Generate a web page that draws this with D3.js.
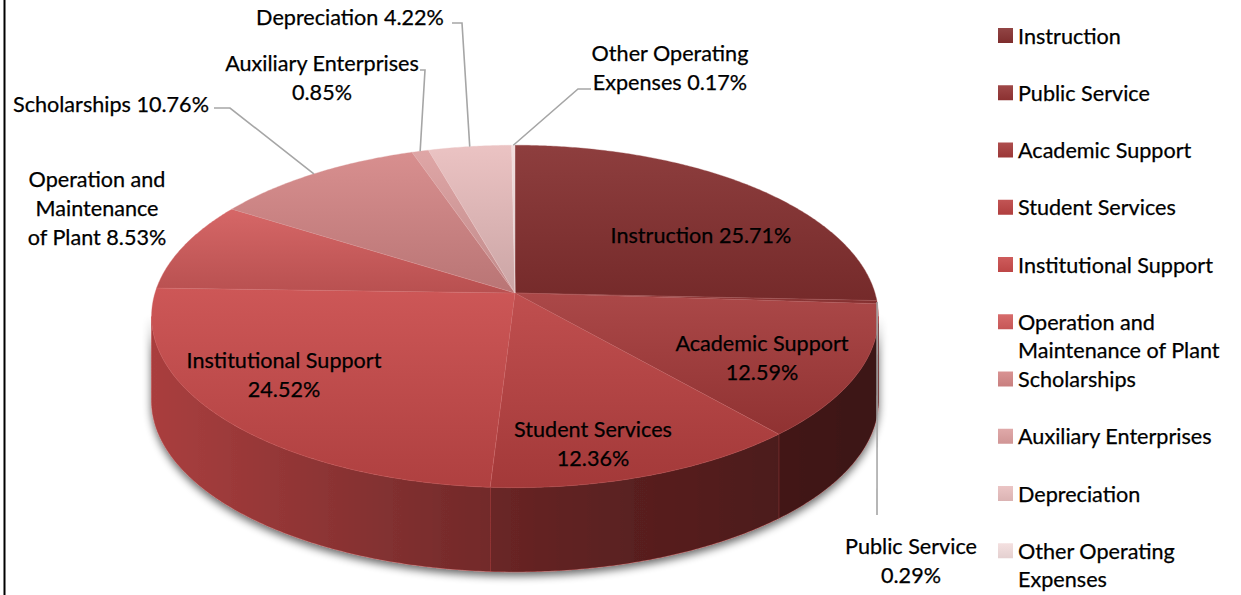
<!DOCTYPE html>
<html>
<head>
<meta charset="utf-8">
<script src="https://cdn.jsdelivr.net/npm/d3@7"></script>
<style>
  html, body { margin: 0; padding: 0; background: #fff; }
  svg { display: block; }
  text { font-family: Lato, "Open Sans", sans-serif; fill: #000; stroke: #000; stroke-width: 0.25; }
</style>
</head>
<body>
<svg id="chart" width="1241" height="595"></svg>
<script>
// Expense categories, in drawing order (clockwise from 12 o'clock)
const categories = [
  "Instruction",
  "Public Service",
  "Academic Support",
  "Student Services",
  "Institutional Support",
  "Operation and Maintenance of Plant",
  "Scholarships",
  "Auxiliary Enterprises",
  "Depreciation",
  "Other Operating Expenses"
];

// Share of total expenses, percent
const shares = [25.71, 0.29, 12.59, 12.36, 24.52, 8.53, 10.76, 0.85, 4.22, 0.17];

// Series colours (dark red through pale pink)
const colors = [
  "#863030", "#943434", "#a53a3a", "#bb4242", "#c94a4a",
  "#d35c5c", "#d58787", "#dd9f9f", "#e9bebe", "#f3dddd"
];

// Words per line for the legend entries
const legendBreaks = [[1], [2], [2], [2], [2], [2, 3], [1], [2], [1], [2, 1]];

// Data label layout: words per line, line centres, optional leader (elbow, end)
const labelLayout = [
  { lines: [2],       x: 701, y: 235 },
  { lines: [2, 1],    x: 911, y: 546, leader: [[877, 515]] },
  { lines: [2, 1],    x: 762, y: 343 },
  { lines: [2, 1],    x: 593, y: 429 },
  { lines: [2, 1],    x: 284, y: 360 },
  { lines: [2, 1, 3], x: 97,  y: 179 },
  { lines: [2],       x: 111, y: 104, leader: [[230, 108], [214, 108]] },
  { lines: [2, 1],    x: 322, y: 63,  leader: [[425, 70], [420, 70]] },
  { lines: [2],       x: 350, y: 17,  leader: [[462, 23], [452, 23]] },
  { lines: [2, 2],    x: 670, y: 53,  leader: [[578, 89], [591, 89]] }
];

const W = 1241, H = 595;
const svg = d3.select("#chart");
const defs = svg.append("defs");

// Perspective view of the pie disc
const CX = 515, CY = 293, RX = 360, RY = 168, K = 0.137, DEPTH = 84;
function project(theta, r, drop) {
  const X = Math.sin(theta) * r, Y = -Math.cos(theta) * r;
  const w = 1 - K * Y;
  return [CX + RX * X / w, CY + RY * Y / w + (drop || 0)];
}
function rimPoints(a0, a1, drop) {
  const n = Math.max(2, Math.ceil((a1 - a0) / (Math.PI / 360)));
  return d3.range(n + 1).map(i => project(a0 + (a1 - a0) * i / n, 1, drop));
}
const line = d3.line();

const pie = d3.pie().sort(null).value(d => d).startAngle(0).endAngle(2 * Math.PI);
const arcs = pie(shares);

// Gradients
const mix = (c, t, amt) => d3.interpolateRgb(c, t)(amt);
colors.forEach((c, i) => {
  const g = defs.append("linearGradient").attr("id", "top" + i)
    .attr("x1", 0).attr("y1", 0).attr("x2", 0).attr("y2", 1);
  g.append("stop").attr("offset", 0).attr("stop-color", mix(c, "#fff", 0.07));
  g.append("stop").attr("offset", 1).attr("stop-color", mix(c, "#000", 0.13));
  const l = defs.append("linearGradient").attr("id", "key" + i)
    .attr("x1", 0).attr("y1", 0).attr("x2", 0).attr("y2", 1);
  l.append("stop").attr("offset", 0).attr("stop-color", mix(c, "#fff", 0.1));
  l.append("stop").attr("offset", 1).attr("stop-color", mix(c, "#000", 0.06));
});
const side = defs.append("linearGradient").attr("id", "sideShade")
  .attr("gradientUnits", "userSpaceOnUse")
  .attr("x1", CX - RX).attr("y1", 0).attr("x2", CX + RX).attr("y2", 0);
[[0, 0.16], [0.4, 0.4], [0.6, 0.5], [1, 0.64]].forEach(([o, a]) =>
  side.append("stop").attr("offset", o).attr("stop-color", "#000").attr("stop-opacity", a));

const shadow = defs.append("filter").attr("id", "wallShadow")
  .attr("x", "-10%").attr("y", "-10%").attr("width", "120%").attr("height", "130%");
shadow.append("feGaussianBlur").attr("in", "SourceAlpha").attr("stdDeviation", 4).attr("result", "b");
shadow.append("feOffset").attr("in", "b").attr("dx", 0).attr("dy", 4).attr("result", "o");
shadow.append("feComponentTransfer").attr("in", "o").attr("result", "s")
  .append("feFuncA").attr("type", "linear").attr("slope", 0.6);
const merge = shadow.append("feMerge");
merge.append("feMergeNode").attr("in", "s");
merge.append("feMergeNode").attr("in", "SourceGraphic");

// Left frame edge
svg.append("rect").attr("x", 3.5).attr("y", 0).attr("width", 2).attr("height", H).attr("fill", "#000");

// Outer walls (front half only)
const TR = Math.acos(-K), TL = 2 * Math.PI - TR;
const walls = svg.append("g").attr("filter", "url(#wallShadow)");
arcs.forEach((a, i) => {
  const t0 = Math.max(a.startAngle, TR), t1 = Math.min(a.endAngle, TL);
  if (t0 >= t1) return;
  const pts = rimPoints(t0, t1, 0).concat(rimPoints(t0, t1, DEPTH).reverse());
  const d = line(pts) + "Z";
  walls.append("path").attr("d", d).attr("fill", colors[i]).attr("stroke", colors[i]).attr("stroke-width", 0.6);
  walls.append("path").attr("d", d).attr("fill", "url(#sideShade)");
});

// Top face
const topFace = svg.append("g");
arcs.forEach((a, i) => {
  const pts = [[CX, CY]].concat(rimPoints(a.startAngle, a.endAngle, 0));
  topFace.append("path").attr("d", line(pts) + "Z")
    .attr("fill", `url(#top${i})`)
    .attr("stroke", mix(colors[i], "#fff", 0.15)).attr("stroke-width", 0.6).attr("stroke-opacity", 0.6);
});

// Data labels
const fmt = v => v.toFixed(2) + "%";
const labels = svg.append("g").attr("font-size", 21.6);
const LH = 29;
arcs.forEach((a, i) => {
  const L = labelLayout[i];
  if (L.leader) {
    const mid = (a.startAngle + a.endAngle) / 2;
    const pts = [project(mid, 1, 0)].concat(L.leader);
    labels.append("path").attr("d", line(pts)).attr("fill", "none")
      .attr("stroke", "#a6a6a6").attr("stroke-width", 1.6);
  }
  const words = (categories[i] + " " + fmt(shares[i])).split(" ");
  let k = 0;
  L.lines.forEach((n, j) => {
    labels.append("text")
      .attr("x", L.x).attr("y", L.y + j * LH)
      .attr("text-anchor", "middle").attr("dominant-baseline", "central")
      .text(words.slice(k, k + n).join(" "));
    k += n;
  });
});

// Legend
const legend = svg.append("g").attr("font-size", 21.6);
const LX = 998, LY0 = 35.5, LSTEP = 57.25, LLH = 28;
categories.forEach((c, i) => {
  const y = LY0 + i * LSTEP;
  legend.append("rect").attr("x", LX).attr("y", y - 7.5).attr("width", 15).attr("height", 15)
    .attr("fill", `url(#key${i})`);
  const words = c.split(" ");
  let k = 0;
  legendBreaks[i].forEach((n, j) => {
    legend.append("text").attr("x", LX + 20).attr("y", y + j * LLH)
      .attr("dominant-baseline", "central")
      .text(words.slice(k, k + n).join(" "));
    k += n;
  });
});
</script>
</body>
</html>
